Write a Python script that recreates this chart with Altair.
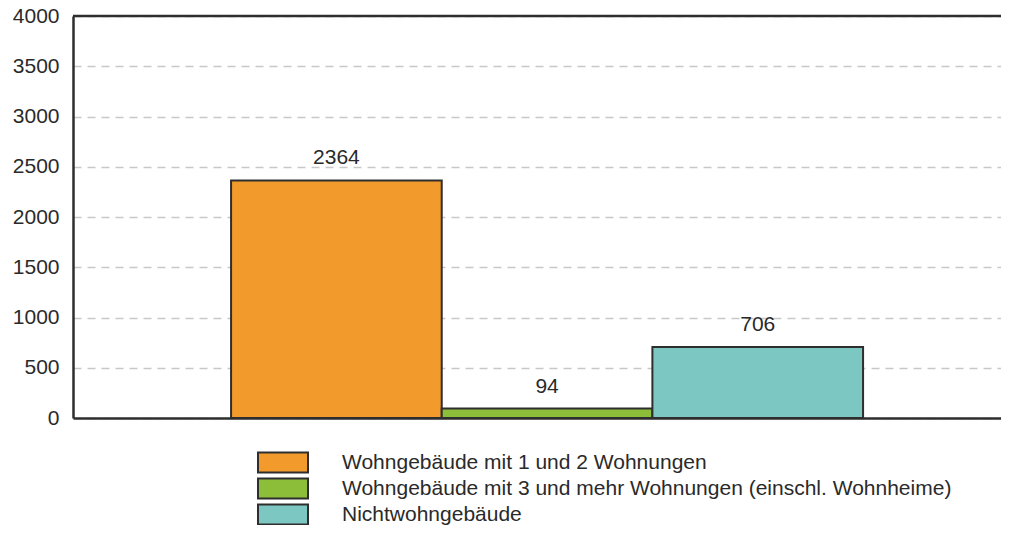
import altair as alt
import pandas as pd

categories = [
    "Wohngebäude mit 1 und 2 Wohnungen",
    "Wohngebäude mit 3 und mehr Wohnungen (einschl. Wohnheime)",
    "Nichtwohngebäude",
]
values = [2364, 94, 706]
colors = ["#F39A2C", "#8CBE3A", "#7DC7C2"]
y_ticks = [0, 500, 1000, 1500, 2000, 2500, 3000, 3500, 4000]

df = pd.DataFrame({"cat": categories, "val": values})

FONT = "Liberation Sans"
DARK = "#2e2e2e"
FS = 21

x_enc = alt.X(
    "cat:N",
    sort=categories,
    scale=alt.Scale(paddingInner=0, paddingOuter=0.7025, align=0.534),
    axis=alt.Axis(labels=False, ticks=False, title=None, grid=False,
                  domainColor=DARK, domainWidth=2.5),
)
y_enc = alt.Y(
    "val:Q",
    scale=alt.Scale(domain=[0, 4000], nice=False),
    axis=alt.Axis(values=y_ticks, format="d", title=None, ticks=False, labelPadding=14,
                  labelFont=FONT, labelFontSize=FS, labelColor="#2a2a2a",
                  domainColor=DARK, domainWidth=2.5,
                  grid=True, gridColor="#c8c8c8", gridDash=[8, 6], gridWidth=1.5),
)

base = alt.Chart(df)

bars = base.mark_bar(stroke=DARK, strokeWidth=2).encode(
    x=x_enc,
    y=y_enc,
    color=alt.Color(
        "cat:N",
        sort=categories,
        scale=alt.Scale(domain=categories, range=colors),
        legend=alt.Legend(
            title=None,
            orient="none",
            legendX=184,
            legendY=435,
            direction="vertical",
            symbolType="M-1,-0.4H1V0.4H-1Z",
            symbolSize=2500,
            symbolStrokeColor=DARK,
            symbolStrokeWidth=2,
            symbolOpacity=1,
            clipHeight=23,
            rowPadding=3,
            labelOffset=33,
            labelFont=FONT,
            labelFontSize=FS,
            labelColor="#2a2a2a",
            labelLimit=1000,
        ),
    ),
)

labels = base.mark_text(
    dy=-16, baseline="alphabetic", font=FONT, fontSize=FS, color="#2a2a2a"
).encode(
    x=alt.X("cat:N", sort=categories),
    y=alt.Y("val:Q"),
    text=alt.Text("val:Q"),
)

top_rule = alt.Chart(pd.DataFrame({"top": [4000]})).mark_rule(
    color=DARK, strokeWidth=2.5
).encode(y=alt.Y("top:Q"))

chart = alt.layer(bars, labels, top_rule).properties(
    width=928,
    height=402,
    padding={"left": 65, "top": 8, "right": 0, "bottom": 107},
    autosize=alt.AutoSizeParams(type="none"),
).configure_view(stroke=None)

chart.save("out.html", embed_options={"renderer": "svg", "actions": False})
